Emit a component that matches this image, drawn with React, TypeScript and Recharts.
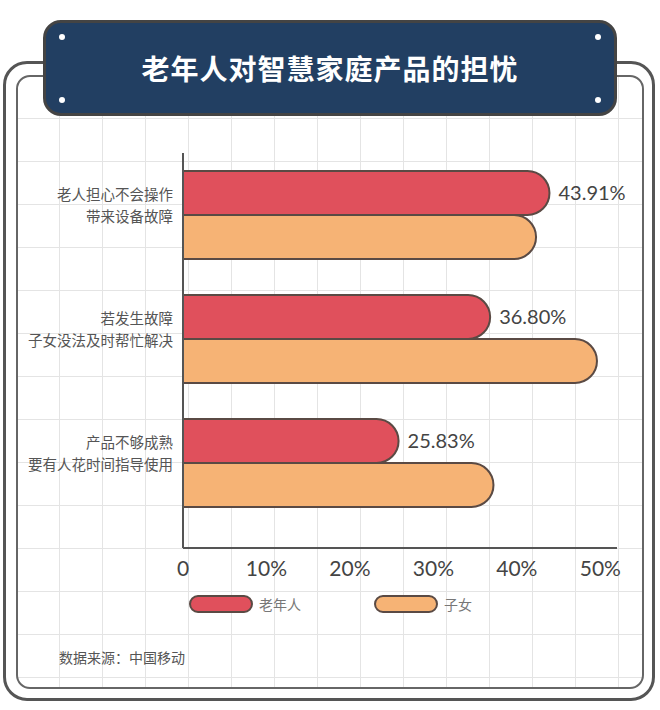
import { BarChart, Bar, XAxis, YAxis, LabelList } from 'recharts';

const categories = ['老人担心不会操作\n带来设备故障', '若发生故障\n子女没法及时帮忙解决', '产品不够成熟\n要有人花时间指导使用'];
const elderly = [43.91, 36.8, 25.83];
const children = [42.3, 49.6, 37.2];
const xTicks = [0, 10, 20, 30, 40, 50];
const seriesNames = ['老年人', '子女'];
const seriesColors = ['#e0505c', '#f6b375'];

const data = categories.map((name, i) => ({ name, elderly: elderly[i], children: children[i] }));

const CJK = '"Noto Sans CJK SC", "Noto Sans", sans-serif';
const NUM = 'Lato, "Noto Sans", sans-serif';
const OUTLINE = '#5a4a44';

const CategoryTick = (props: any) => {
  const { x, y, payload } = props;
  const lines = String(payload.value).split('\n');
  return (
    <text x={x - 2} y={y - 8} textAnchor="end" fontFamily={CJK} fontSize={14.5} fill="#555">
      {lines.map((l, i) => (
        <tspan key={i} x={x - 2} dy={i === 0 ? -7 : 22}>{l}</tspan>
      ))}
    </text>
  );
};

const PercentTick = (props: any) => {
  const { x, y, payload } = props;
  return (
    <text x={x} y={y + 20} textAnchor="middle" fontFamily={NUM} fontSize={21} fill="#444">
      {payload.value === 0 ? '0' : `${payload.value}%`}
    </text>
  );
};

const Dot = ({ left, top }: { left: number; top: number }) => (
  <div style={{ position: 'absolute', left: left - 3, top: top - 3, width: 6, height: 6, borderRadius: 3, background: '#fff' }} />
);

export default function App() {
  return (
    <div style={{ position: 'fixed', left: 0, top: 0, width: 660, height: 710, background: '#fff', overflow: 'hidden' }}>
      {/* outer frame */}
      <div style={{ position: 'absolute', left: 3, top: 61, width: 646, height: 634, border: '3px solid #555', borderRadius: 24 }} />
      {/* inner frame with grid */}
      <div
        style={{
          position: 'absolute', left: 16, top: 75, width: 624, height: 610, border: '2px solid #666', borderRadius: 14,
          backgroundImage: 'linear-gradient(to right, #e4e4e4 1px, transparent 1px), linear-gradient(to bottom, #e4e4e4 1px, transparent 1px)',
          backgroundSize: '43px 43px', backgroundPosition: '41px 41px',
        }}
      />
      {/* header */}
      <div
        style={{
          position: 'absolute', left: 43, top: 20, width: 568, height: 90, background: '#223f62', border: '3px solid #444',
          borderRadius: 18, display: 'flex', alignItems: 'center', justifyContent: 'center',
          color: '#fff', fontFamily: CJK, fontWeight: 700, fontSize: 28, letterSpacing: 1,
        }}
      >
        老年人对智慧家庭产品的担忧
      </div>
      <Dot left={62} top={37} />
      <Dot left={598} top={37} />
      <Dot left={62} top={100} />
      <Dot left={598} top={100} />

      <div style={{ position: 'absolute', left: 0, top: 0 }}>
        <BarChart
          width={660}
          height={600}
          data={data}
          layout="vertical"
          margin={{ top: 153, right: 43, left: 0, bottom: 22 }}
          barGap={0}
          barSize={44}
        >
          <XAxis
            type="number"
            domain={[0, 52]}
            ticks={xTicks}
            height={30}
            axisLine={{ stroke: '#555', strokeWidth: 2 }}
            tickLine={false}
            tick={<PercentTick />}
          />
          <YAxis
            type="category"
            dataKey="name"
            width={183}
            padding={{ top: 0, bottom: 23 }}
            axisLine={{ stroke: '#555', strokeWidth: 2 }}
            tickLine={false}
            tick={<CategoryTick />}
          />
          <Bar dataKey="elderly" name={seriesNames[0]} fill={seriesColors[0]} stroke={OUTLINE} strokeWidth={2} radius={[0, 22, 22, 0]} isAnimationActive={false}>
            <LabelList
              dataKey="elderly"
              position="right"
              offset={9}
              formatter={(v: any) => `${Number(v).toFixed(2)}%`}
              style={{ fontFamily: NUM, fontSize: 20, fill: '#444' }}
            />
          </Bar>
          <Bar dataKey="children" name={seriesNames[1]} fill={seriesColors[1]} stroke={OUTLINE} strokeWidth={2} radius={[0, 22, 22, 0]} isAnimationActive={false} />
        </BarChart>
      </div>

      {/* legend */}
      {seriesNames.map((n, i) => (
        <div key={n} style={{ position: 'absolute', left: 189 + i * 185, top: 594, display: 'flex', alignItems: 'center' }}>
          <div style={{ width: 60, height: 14, borderRadius: 9, background: seriesColors[i], border: `2px solid ${OUTLINE}` }} />
          <span style={{ marginLeft: 6, fontFamily: CJK, fontSize: 14, color: '#777' }}>{n}</span>
        </div>
      ))}

      <div style={{ position: 'absolute', left: 59, top: 647, fontFamily: CJK, fontSize: 14, color: '#555' }}>
        数据来源：中国移动
      </div>
    </div>
  );
}
